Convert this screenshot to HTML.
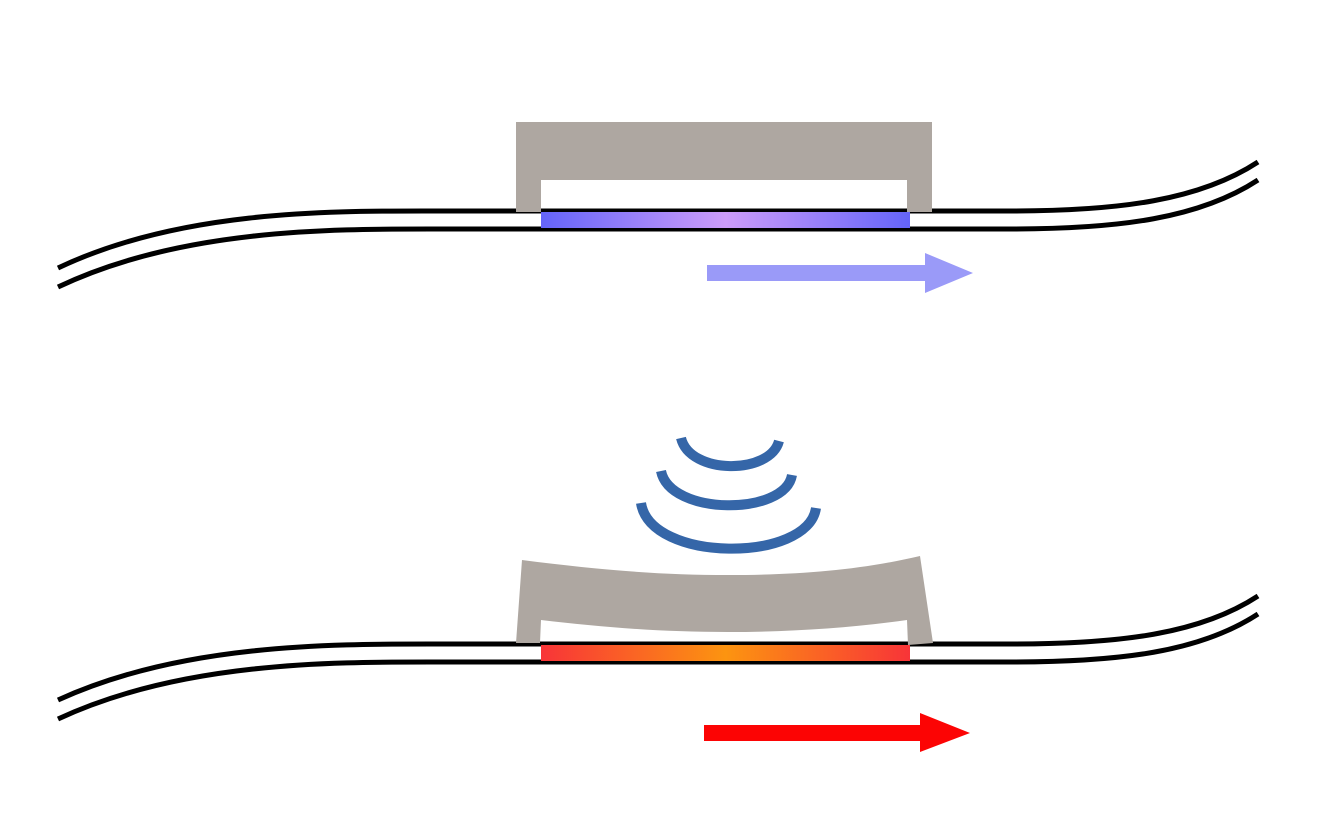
<!DOCTYPE html>
<html><head><meta charset="utf-8"><style>html,body{margin:0;padding:0;background:#fff}svg{display:block}</style></head>
<body>
<svg width="1338" height="839" viewBox="0 0 1338 839" xmlns="http://www.w3.org/2000/svg">
<defs>
<linearGradient id="gb" x1="0" x2="1"><stop offset="0" stop-color="#6464f8"/><stop offset="0.5" stop-color="#cc9cf8"/><stop offset="1" stop-color="#6464f8"/></linearGradient>
<linearGradient id="gr" x1="0" x2="1"><stop offset="0" stop-color="#f83438"/><stop offset="0.5" stop-color="#fc9410"/><stop offset="1" stop-color="#f83438"/></linearGradient>
</defs>
<g fill="none" stroke="#000" stroke-width="5">
<path d="M58,268 C180,210 330,211 430,211 L1010,211 C1120,211 1200,200 1258,162"/>
<path d="M58,287 C180,229 330,229 430,229 L1010,229 C1120,229 1200,218 1258,180"/>
<path d="M58,700 C180,644 330,644 430,644 L1010,644 C1120,644 1200,634 1258,596"/>
<path d="M58,719 C180,662 330,662 430,662 L1010,662 C1120,662 1200,652 1258,614"/>
</g>
<path d="M516,122 L932,122 L932,212 L907,212 L907,180 L541,180 L541,212 L516,212 Z" fill="#aea7a1"/>
<rect x="541" y="212" width="369" height="16" fill="url(#gb)"/>
<rect x="707" y="265" width="222" height="16" fill="#9a9af8"/>
<path d="M925,253 L973,273 L925,293 Z" fill="#9a9af8"/>
<path d="M522,560 C600,570 660,575 728,575 C800,575 860,570 920,556 L933,643 L908,645 L907,620 C850,628 790,632 728,632 C660,632 600,627 541,620 L540,643 L516,643 Z" fill="#aea7a1"/>
<rect x="541" y="645" width="369" height="16" fill="url(#gr)"/>
<g fill="none" stroke="#3566a8" stroke-width="10">
<path d="M681,438 C690,475 770,475 779,441"/>
<path d="M661,471 C670,516 785,516 792,475"/>
<path d="M641,503 C650,563 808,563 816,508"/>
</g>
<rect x="704" y="725" width="218" height="16" fill="#fc0404"/>
<path d="M920,713 L970,733 L920,752 Z" fill="#fc0404"/>
</svg>
</body></html>
